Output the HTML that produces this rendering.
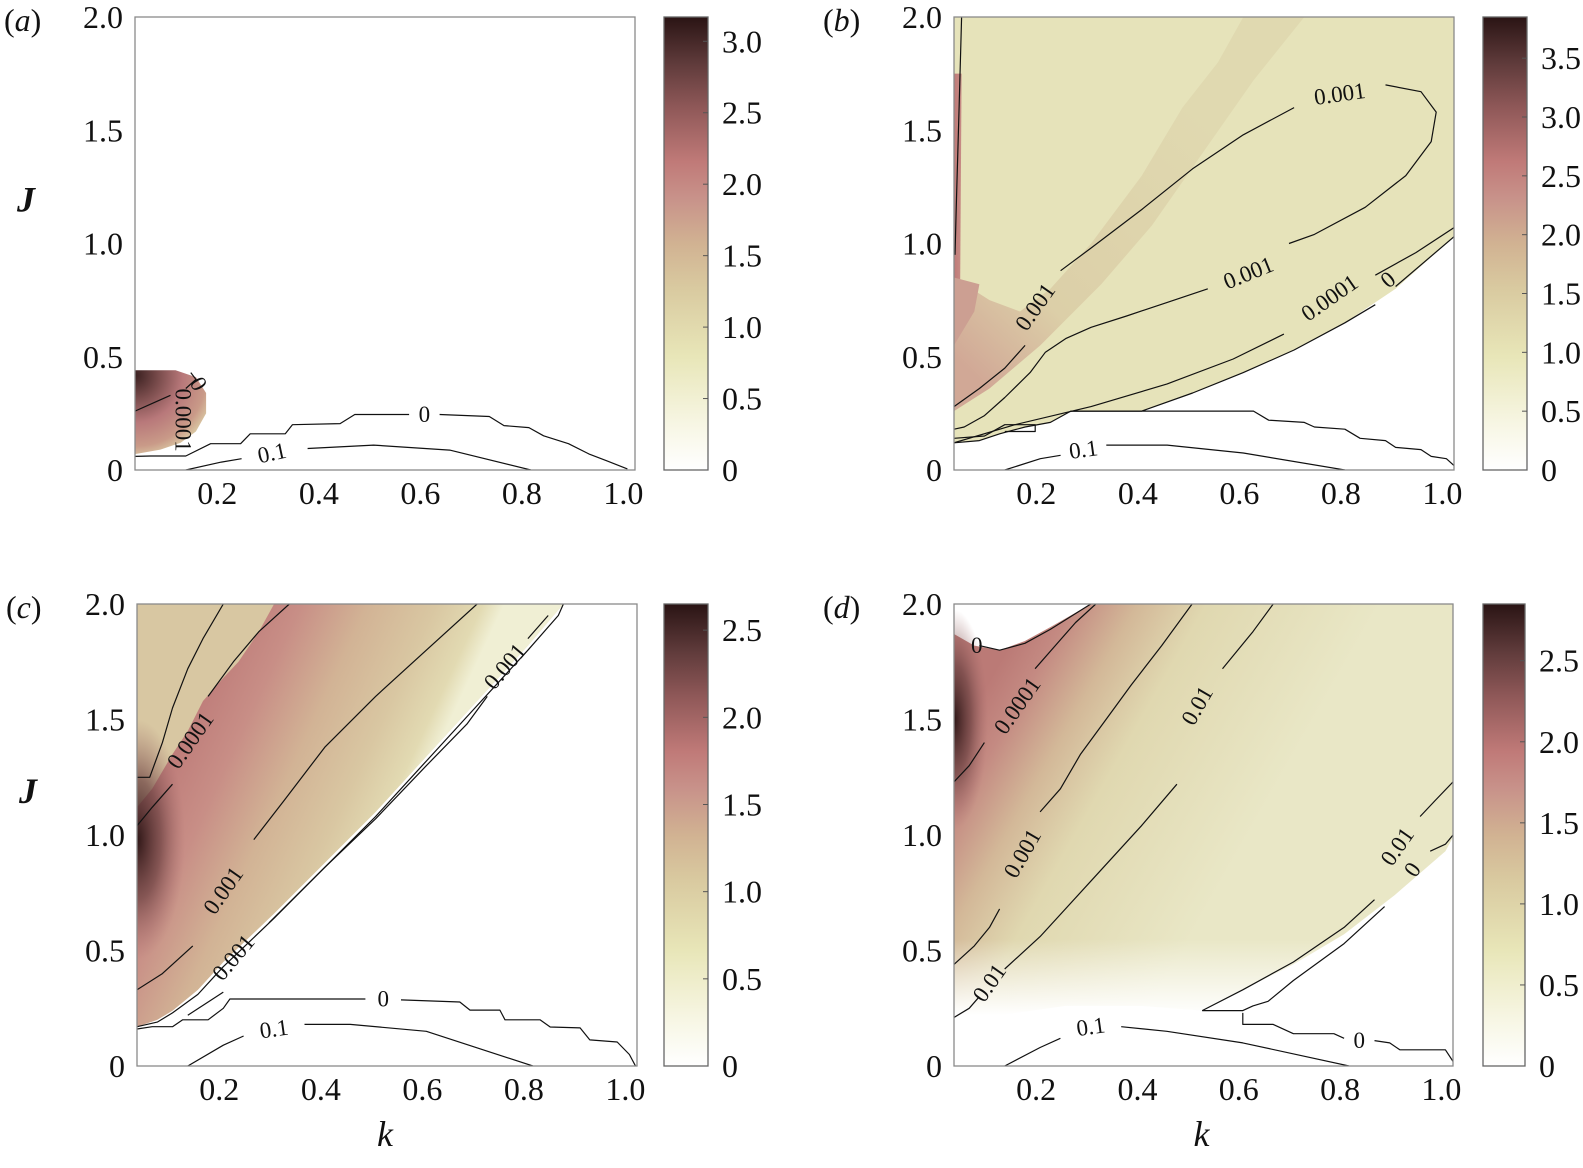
<!DOCTYPE html>
<html><head><meta charset="utf-8"><style>
html,body{margin:0;padding:0;background:#fff;}
svg{display:block;font-family:"Liberation Serif",serif;}
</style></head><body>
<svg id="fig" width="1583" height="1168" viewBox="0 0 1583 1168" xmlns="http://www.w3.org/2000/svg"></svg>
<script>
// ---------- data (k, J) ----------
const xTicks = [0.2, 0.4, 0.6, 0.8, 1.0];
const xTickLabels = ["0.2","0.4","0.6","0.8","1.0"];
const yTicks = [0, 0.5, 1.0, 1.5, 2.0];
const yTickLabels = ["0","0.5","1.0","1.5","2.0"];
const cbTicksA = [0,0.5,1,1.5,2,2.5,3]; const cbMaxA = 3.17;
const cbTicksB = [0,0.5,1,1.5,2,2.5,3,3.5]; const cbMaxB = 3.85;
const cbTicksC = [0,0.5,1,1.5,2,2.5]; const cbMaxC = 2.65;
const cbTicksD = [0,0.5,1,1.5,2,2.5]; const cbMaxD = 2.85;

// panel a
const aBlob = [[0.03,0.44],[0.11,0.44],[0.15,0.41],[0.17,0.34],[0.17,0.25],[0.15,0.17],[0.12,0.12],[0.08,0.09],[0.03,0.07]];
const aZeroL = [[0.03,0.06],[0.061,0.062],[0.13,0.062],[0.179,0.116],[0.238,0.116],[0.257,0.16],[0.326,0.16],[0.34,0.2],[0.434,0.205],[0.463,0.245],[0.57,0.245]];
const aZeroR = [[0.63,0.245],[0.728,0.236],[0.757,0.196],[0.806,0.187],[0.835,0.151],[0.884,0.116],[0.924,0.071],[0.96,0.04],[1.0,0.005]];
const aTenthL = [[0.13,0],[0.2,0.035],[0.24,0.05]];
const aTenthR = [[0.37,0.095],[0.5,0.11],[0.65,0.088],[0.81,0]];
const aSmall = [[0.03,0.26],[0.07,0.3],[0.1,0.33]];
const aSmall2 = [[0.13,0.36],[0.15,0.4],[0.14,0.43]];

// panel b
const bFill = [[0.03,2],[1.015,2],[1.015,1.03],[0.9,0.8],[0.8,0.65],[0.7,0.53],[0.6,0.43],[0.5,0.34],[0.4,0.26],[0.26,0.26],[0.22,0.21],[0.17,0.19],[0.12,0.16],[0.08,0.13],[0.03,0.12]];
const bBand = [[0.03,0.85],[0.1,0.75],[0.16,0.7],[0.22,0.8],[0.3,1.0],[0.4,1.3],[0.48,1.6],[0.55,1.8],[0.6,2.0],[0.72,2.0],[0.62,1.72],[0.52,1.4],[0.42,1.08],[0.32,0.82],[0.2,0.55],[0.1,0.36],[0.03,0.26]];
const bBoundary = [[0.03,0.12],[0.08,0.13],[0.12,0.16],[0.17,0.19],[0.22,0.21],[0.26,0.26],[0.4,0.26],[0.5,0.34],[0.6,0.43],[0.7,0.53],[0.8,0.65],[0.86,0.73]];
const bBoundary2 = [[0.9,0.81],[1.015,1.03]];
const bStep2 = [[0.03,0.14],[0.09,0.15],[0.13,0.2],[0.19,0.2],[0.19,0.17],[0.13,0.17]];
const bZeroLow = [[0.26,0.26],[0.62,0.26],[0.65,0.22],[0.72,0.21],[0.74,0.19],[0.8,0.18],[0.83,0.14],[0.88,0.13],[0.9,0.1],[0.95,0.09],[0.97,0.06],[1.0,0.05],[1.015,0.02]];
const bTenthL = [[0.13,0],[0.2,0.05],[0.24,0.065]];
const bTenthR = [[0.33,0.11],[0.45,0.11],[0.6,0.075],[0.8,0]];
const b001a = [[0.03,0.28],[0.08,0.36],[0.13,0.45],[0.17,0.55]];
const b001b = [[0.24,0.88],[0.3,0.98],[0.4,1.15],[0.5,1.33],[0.6,1.48],[0.7,1.6]];
const b001c = [[0.88,1.7],[0.95,1.67],[0.98,1.58],[0.97,1.45],[0.92,1.3],[0.84,1.16],[0.74,1.04],[0.69,1.0]];
const b001d = [[0.53,0.8],[0.45,0.74],[0.37,0.68],[0.3,0.63],[0.25,0.58],[0.21,0.52],[0.18,0.43],[0.13,0.32],[0.09,0.24],[0.05,0.19],[0.03,0.18]];
const b0001a = [[0.03,0.12],[0.15,0.2],[0.3,0.28],[0.45,0.38],[0.58,0.49],[0.68,0.6]];
const b0001b = [[0.86,0.86],[0.94,0.96],[1.015,1.07]];
const bEdge = [[0.045,2.0],[0.04,1.6],[0.035,1.2],[0.032,0.95]];

// panel c
const cFill = [[0.03,2],[0.87,2],[0.8,1.82],[0.7,1.58],[0.6,1.34],[0.5,1.1],[0.4,0.88],[0.3,0.66],[0.2,0.45],[0.15,0.33],[0.1,0.24],[0.07,0.2],[0.03,0.17]];
const cPink = [[0.03,1.12],[0.06,1.2],[0.1,1.35],[0.13,1.45],[0.16,1.58],[0.2,1.68],[0.23,1.75],[0.27,1.88],[0.3,2.0],[0.87,2],[0.8,1.82],[0.7,1.58],[0.6,1.34],[0.5,1.1],[0.4,0.88],[0.3,0.66],[0.2,0.45],[0.15,0.33],[0.1,0.24],[0.07,0.2],[0.03,0.17]];
const cTopLeft = [[0.03,1.25],[0.055,1.25],[0.08,1.4],[0.1,1.55],[0.13,1.72],[0.16,1.85],[0.2,2.0]];
const c0001a = [[0.03,1.04],[0.06,1.12],[0.1,1.22]];
const c0001b = [[0.17,1.6],[0.22,1.75],[0.27,1.88],[0.33,2.0]];
const c001a = [[0.03,0.33],[0.08,0.4],[0.14,0.52]];
const c001b = [[0.26,0.98],[0.32,1.15],[0.4,1.38],[0.5,1.6],[0.6,1.8],[0.7,2.0]];
const c001c = [[0.13,0.22],[0.2,0.32]];
const c001d = [[0.29,0.62],[0.4,0.86],[0.5,1.07],[0.6,1.3],[0.68,1.48],[0.72,1.6]];
const c001e = [[0.8,1.85],[0.84,1.95]];
const cBoundary = [[0.03,0.17],[0.07,0.19],[0.1,0.23],[0.15,0.31],[0.2,0.43],[0.3,0.64],[0.4,0.86],[0.5,1.08],[0.6,1.32],[0.7,1.56],[0.8,1.8],[0.86,1.95],[0.87,2.0]];
const cZeroL = [[0.03,0.16],[0.06,0.17],[0.1,0.17],[0.12,0.2],[0.17,0.2],[0.2,0.25],[0.213,0.29],[0.48,0.29]];
const cZeroR = [[0.55,0.286],[0.666,0.277],[0.686,0.242],[0.745,0.242],[0.755,0.2],[0.824,0.2],[0.844,0.169],[0.903,0.165],[0.922,0.113],[0.976,0.104],[1.0,0.05],[1.012,0]];
const cTenthL = [[0.13,0],[0.2,0.09],[0.24,0.13]];
const cTenthR = [[0.36,0.18],[0.45,0.18],[0.6,0.15],[0.81,0]];

// panel d
const dFill = [[0.03,1.87],[0.07,1.82],[0.12,1.8],[0.17,1.84],[0.22,1.9],[0.3,2.0],[1.015,2.0],[1.015,0.99],[1.0,0.93],[0.9,0.74],[0.8,0.57],[0.7,0.44],[0.6,0.33],[0.52,0.24],[0.4,0.26],[0.25,0.26],[0.12,0.22],[0.03,0.16]];
const dCap = [[0.08,1.82],[0.12,1.8],[0.17,1.83],[0.22,1.89],[0.3,2.0]];
const d0001a = [[0.03,1.23],[0.06,1.3],[0.09,1.4]];
const d0001b = [[0.19,1.72],[0.23,1.82],[0.27,1.92],[0.31,2.0]];
const d001a = [[0.03,0.44],[0.07,0.52],[0.1,0.6],[0.12,0.68]];
const d001b = [[0.2,1.1],[0.24,1.2],[0.28,1.35],[0.33,1.5],[0.38,1.65],[0.44,1.82],[0.5,2.0]];
const d01a = [[0.03,0.21],[0.06,0.25],[0.08,0.3]];
const d01b = [[0.13,0.42],[0.2,0.56],[0.3,0.8],[0.4,1.04],[0.47,1.22]];
const d01c = [[0.56,1.72],[0.62,1.88],[0.66,2.0]];
const d01r1 = [[0.52,0.24],[0.6,0.33],[0.7,0.45],[0.8,0.6],[0.86,0.72]];
const d01r2 = [[0.95,1.08],[0.98,1.15],[1.015,1.23]];
const dZeroR1 = [[0.52,0.24],[0.6,0.24],[0.62,0.26],[0.65,0.28],[0.7,0.37],[0.8,0.53],[0.88,0.69]];
const dZeroR2 = [[0.97,0.93],[1.0,0.96],[1.015,1.0]];
const dZeroLow1 = [[0.6,0.23],[0.6,0.18],[0.66,0.18],[0.7,0.14],[0.78,0.14],[0.8,0.12]];
const dZeroLow2 = [[0.86,0.11],[0.89,0.1],[0.91,0.07],[1.0,0.07],[1.015,0.02]];
const dTenthL = [[0.13,0],[0.2,0.08],[0.24,0.12]];
const dTenthR = [[0.36,0.17],[0.45,0.15],[0.6,0.1],[0.81,0]];

// ---------- helpers ----------
const NS = "http://www.w3.org/2000/svg";
const svg = document.getElementById('fig');
function el(tag, attrs, parent){ const e=document.createElementNS(NS,tag); for(const k in attrs) e.setAttribute(k,attrs[k]); (parent||svg).appendChild(e); return e; }
const KMIN=0.03, KMAX=1.015;
function axes(L,R,T,B){ return { sx:k=>L+(k-KMIN)/(KMAX-KMIN)*(R-L), sy:j=>B-j/2*(B-T), L,R,T,B }; }
function pts(ax, arr){ return arr.map(p=>ax.sx(p[0]).toFixed(1)+','+ax.sy(p[1]).toFixed(1)).join(' '); }
const defs = el('defs',{});
function lin(id, x1,y1,x2,y2, stops){ const g=el('linearGradient',{id, gradientUnits:'userSpaceOnUse', x1,y1,x2,y2},defs); stops.forEach(s=>el('stop',{offset:s[0],'stop-color':s[1],'stop-opacity':s[2]===undefined?1:s[2]},g)); }
const CMAP=[[0,'#ffffff'],[0.1,'#f7f6e4'],[0.25,'#e8e6b8'],[0.4,'#d9caa0'],[0.5,'#d1b292'],[0.6,'#c8928a'],[0.68,'#c07a78'],[0.8,'#8f5858'],[0.9,'#5e3a3a'],[1,'#2a1414']];

function poly(g, ax, arr, fill, name){ const p=el('polygon',{points:pts(ax,arr), fill:fill, stroke:'none'},g);
  
   return p; }
function line(g, ax, arr, name, w){ const p=el('polyline',{points:pts(ax,arr), fill:'none', stroke:'#111', 'stroke-width':w||1.2, 'stroke-linejoin':'round'},g);
  
   return p; }
function clabel(g, ax, k, j, txt, rot, name){ const x=ax.sx(k), y=ax.sy(j);
  const t=el('text',{x, y, 'font-size':23, 'text-anchor':'middle','dominant-baseline':'central', transform:`rotate(${rot} ${x} ${y})`, fill:'#111'},g);
  t.textContent=txt;
  
   return t; }

function panel(id, L,R,T,B, cbL, cbR, cbTicks, cbMax, letter, showK, showJ){
  const ax=axes(L,R,T,B);
  const g=el('g',{});
  
  
  const cp=el('clipPath',{id:'clip-'+id},defs);
  el('rect',{x:L,y:T,width:R-L,height:B-T},cp);
  const plot=el('g',{'clip-path':`url(#clip-${id})`},g);
  
  
  const fr=el('rect',{x:L,y:T,width:R-L,height:B-T,fill:'none',stroke:'#8a8a8a','stroke-width':1.3},g);
  
  
  xTicks.forEach((v,i)=>{ const t=el('text',{x:ax.sx(v)-4, y:B+34, 'font-size':32,'text-anchor':'middle',fill:'#111'},g); t.textContent=xTickLabels[i];
    
     });
  yTicks.forEach((v,i)=>{ const t=el('text',{x:L-12, y:ax.sy(v)+11, 'font-size':32,'text-anchor':'end',fill:'#111'},g); t.textContent=yTickLabels[i];
    
     });
  const pl=el('text',{x:L-131, y:T+14,'font-size':32,fill:'#111'},g);
  pl.innerHTML='(<tspan font-style="italic">'+letter+'</tspan>)';
  
  
  if(showJ){ const t=el('text',{x:L-118,y:(T+B)/2-32,'font-size':36,'font-style':'italic','font-weight':'bold',fill:'#111'},g); t.textContent='J';
    
     }
  if(showK){ const t=el('text',{x:(L+R)/2-10,y:B+80,'font-size':36,'font-style':'italic',fill:'#111'},g); t.textContent='k';
    
     }
  lin('cbg-'+id,0,B,0,T,CMAP);
  const cb=el('rect',{x:cbL,y:T,width:cbR-cbL,height:B-T,fill:`url(#cbg-${id})`,stroke:'#666','stroke-width':1.3},g);
  
  
  cbTicks.forEach(v=>{ const y=B-v/cbMax*(B-T);
    if(v>0){ const tk=el('line',{x1:cbR-5,x2:cbR,y1:y,y2:y,stroke:'#555','stroke-width':1},g);
      
       }
    const t=el('text',{x:cbR+14,y:y+11,'font-size':32,fill:'#111'},g); t.textContent=(v===0?'0':v.toFixed(1));
    
     });
  return {ax, plot, g};
}

// ---------- panel a ----------
(function(){
  const P=panel('a',135,635,17,470,664,708,cbTicksA,cbMaxA,'a',false,true), ax=P.ax, g=P.plot;
  const cg=el('radialGradient',{id:'blobA',gradientUnits:'userSpaceOnUse',cx:ax.sx(0.03),cy:ax.sy(0.42),r:95},defs);
  [[0,'#3a2020'],[0.25,'#7a4c4c'],[0.5,'#b8787a'],[0.75,'#c99a88'],[0.9,'#ddd0a8'],[1,'#efeed0']].forEach(s=>el('stop',{offset:s[0],'stop-color':s[1]},cg));
  poly(g,ax,aBlob,'url(#blobA)','unstable-region');
  line(g,ax,aZeroL,'contour-0'); line(g,ax,aZeroR,'contour-0');
  line(g,ax,aTenthL,'contour-0.1'); line(g,ax,aTenthR,'contour-0.1');
  line(g,ax,aSmall,'contour-0.0001'); line(g,ax,aSmall2,'contour-0');
  clabel(P.g,ax,0.6,0.245,'0',0,'contour-label');
  clabel(P.g,ax,0.3,0.075,'0.1',-12,'contour-label');
  clabel(P.g,ax,0.125,0.22,'0.0001',90,'contour-label');
  clabel(P.g,ax,0.155,0.38,'0',60,'contour-label');
})();

// ---------- panel b ----------
(function(){
  const P=panel('b',954,1454,17,470,1483,1527,cbTicksB,cbMaxB,'b',false,false), ax=P.ax, g=P.plot;
  poly(g,ax,bFill,'#e6e3ba','stable-fill');
  lin('bandB',ax.sx(0.03),ax.sy(0.5),ax.sx(0.5),ax.sy(1.6),[[0,'#d1a896'],[0.3,'#dccfa8'],[1,'#e0d9b0']]);
  poly(g,ax,bBand,'url(#bandB)','tan-band');
  lin('stripB',ax.sx(0.03),0,ax.sx(0.05),0,[[0,'#c07a78'],[1,'#c9928a']]);
  poly(g,ax,[[0.03,0.78],[0.042,0.78],[0.045,1.75],[0.03,1.75]],'url(#stripB)','pink-strip');
  poly(g,ax,[[0.03,0.55],[0.07,0.7],[0.08,0.82],[0.03,0.85]],'#cc9f92','pink-patch');
  line(g,ax,bBoundary,'contour-0-boundary'); line(g,ax,bBoundary2,'contour-0-boundary');
  line(g,ax,bStep2,'contour-steps');
  line(g,ax,bZeroLow,'contour-0');
  line(g,ax,bTenthL,'contour-0.1'); line(g,ax,bTenthR,'contour-0.1');
  line(g,ax,b001a,'contour-0.001'); line(g,ax,b001b,'contour-0.001'); line(g,ax,b001c,'contour-0.001'); line(g,ax,b001d,'contour-0.001');
  line(g,ax,b0001a,'contour-0.0001'); line(g,ax,b0001b,'contour-0.0001');
  line(g,ax,bEdge,'contour-edge');
  clabel(P.g,ax,0.19,0.72,'0.001',-55,'contour-label');
  clabel(P.g,ax,0.79,1.66,'0.001',-8,'contour-label');
  clabel(P.g,ax,0.61,0.87,'0.001',-22,'contour-label');
  clabel(P.g,ax,0.77,0.76,'0.0001',-35,'contour-label');
  clabel(P.g,ax,0.885,0.84,'0',-40,'contour-label');
  clabel(P.g,ax,0.285,0.09,'0.1',-8,'contour-label');
})();

// ---------- panel c ----------
(function(){
  const P=panel('c',137,637,604,1066,664,708,cbTicksC,cbMaxC,'c',true,true), ax=P.ax, g=P.plot;
  poly(g,ax,cFill,'#d8c7a2','tan-fill');
  lin('bandC',ax.sx(0.06),ax.sy(1.25),ax.sx(0.5),ax.sy(0.8),[[0,'#bd7a78'],[0.25,'#c88e86'],[0.5,'#d2b395'],[0.75,'#d9c7a2'],[0.92,'#e2dab2'],[1,'#f0efd4']]);
  poly(g,ax,cPink,'url(#bandC)','pink-band');
  const rg=el('radialGradient',{id:'darkC'},defs);
  [[0,'#2e1616',1],[0.5,'#6a4040',0.7],[1,'#a06868',0]].forEach(s=>el('stop',{offset:s[0],'stop-color':s[1],'stop-opacity':s[2]},rg));
  const e=el('ellipse',{cx:ax.sx(0.03),cy:ax.sy(0.98),rx:48,ry:120,fill:'url(#darkC)'},g);
  
  
  line(g,ax,cTopLeft,'contour-0.0001');
  line(g,ax,c0001a,'contour-0.0001'); line(g,ax,c0001b,'contour-0.0001');
  line(g,ax,c001a,'contour-0.001'); line(g,ax,c001b,'contour-0.001');
  line(g,ax,c001c,'contour-0.001'); line(g,ax,c001d,'contour-0.001'); line(g,ax,c001e,'contour-0.001');
  line(g,ax,cBoundary,'contour-0-boundary');
  line(g,ax,cZeroL,'contour-0'); line(g,ax,cZeroR,'contour-0');
  line(g,ax,cTenthL,'contour-0.1'); line(g,ax,cTenthR,'contour-0.1');
  clabel(P.g,ax,0.135,1.41,'0.0001',-55,'contour-label');
  clabel(P.g,ax,0.2,0.76,'0.001',-55,'contour-label');
  clabel(P.g,ax,0.22,0.47,'0.001',-50,'contour-label');
  clabel(P.g,ax,0.755,1.73,'0.001',-50,'contour-label');
  clabel(P.g,ax,0.515,0.29,'0',0,'contour-label');
  clabel(P.g,ax,0.3,0.16,'0.1',-8,'contour-label');
})();

// ---------- panel d ----------
(function(){
  const P=panel('d',954,1453,604,1066,1483,1525,cbTicksD,cbMaxD,'d',true,false), ax=P.ax, g=P.plot;
  lin('baseD',ax.sx(0.03),ax.sy(1.4),ax.sx(0.55),ax.sy(0.75),[[0,'#bb7a76'],[0.12,'#c48a82'],[0.3,'#d3b898'],[0.5,'#e0d8b0'],[1,'#e9e7c6']]);
  poly(g,ax,dFill,'url(#baseD)','colored-fill');
  const rg=el('radialGradient',{id:'darkD'},defs);
  [[0,'#2e1616',1],[0.5,'#6a4040',0.7],[1,'#a06868',0]].forEach(s=>el('stop',{offset:s[0],'stop-color':s[1],'stop-opacity':s[2]},rg));
  const e=el('ellipse',{cx:ax.sx(0.03),cy:ax.sy(1.5),rx:34,ry:110,fill:'url(#darkD)'},g);
  
  
  lin('fadeD',0,ax.sy(0.55),0,ax.sy(0.22),[[0,'#ffffff',0],[1,'#ffffff',1]]);
  const f=el('rect',{x:ax.L,y:ax.sy(0.55),width:ax.R-ax.L,height:ax.sy(0.15)-ax.sy(0.55),fill:'url(#fadeD)'},g);
  
  
  line(g,ax,dCap,'contour-0');
  line(g,ax,d0001a,'contour-0.0001'); line(g,ax,d0001b,'contour-0.0001');
  line(g,ax,d001a,'contour-0.001'); line(g,ax,d001b,'contour-0.001');
  line(g,ax,d01a,'contour-0.01'); line(g,ax,d01b,'contour-0.01'); line(g,ax,d01c,'contour-0.01');
  line(g,ax,d01r1,'contour-0.01'); line(g,ax,d01r2,'contour-0.01');
  line(g,ax,dZeroR1,'contour-0'); line(g,ax,dZeroR2,'contour-0');
  line(g,ax,dZeroLow1,'contour-0'); line(g,ax,dZeroLow2,'contour-0');
  line(g,ax,dTenthL,'contour-0.1'); line(g,ax,dTenthR,'contour-0.1');
  clabel(P.g,ax,0.075,1.82,'0',0,'contour-label');
  clabel(P.g,ax,0.155,1.56,'0.0001',-55,'contour-label');
  clabel(P.g,ax,0.165,0.92,'0.001',-60,'contour-label');
  clabel(P.g,ax,0.1,0.36,'0.01',-55,'contour-label');
  clabel(P.g,ax,0.51,1.56,'0.01',-60,'contour-label');
  clabel(P.g,ax,0.905,0.95,'0.01',-55,'contour-label');
  clabel(P.g,ax,0.935,0.85,'0',-55,'contour-label');
  clabel(P.g,ax,0.83,0.11,'0',0,'contour-label');
  clabel(P.g,ax,0.3,0.17,'0.1',-8,'contour-label');
})();
</script>
</body></html>
